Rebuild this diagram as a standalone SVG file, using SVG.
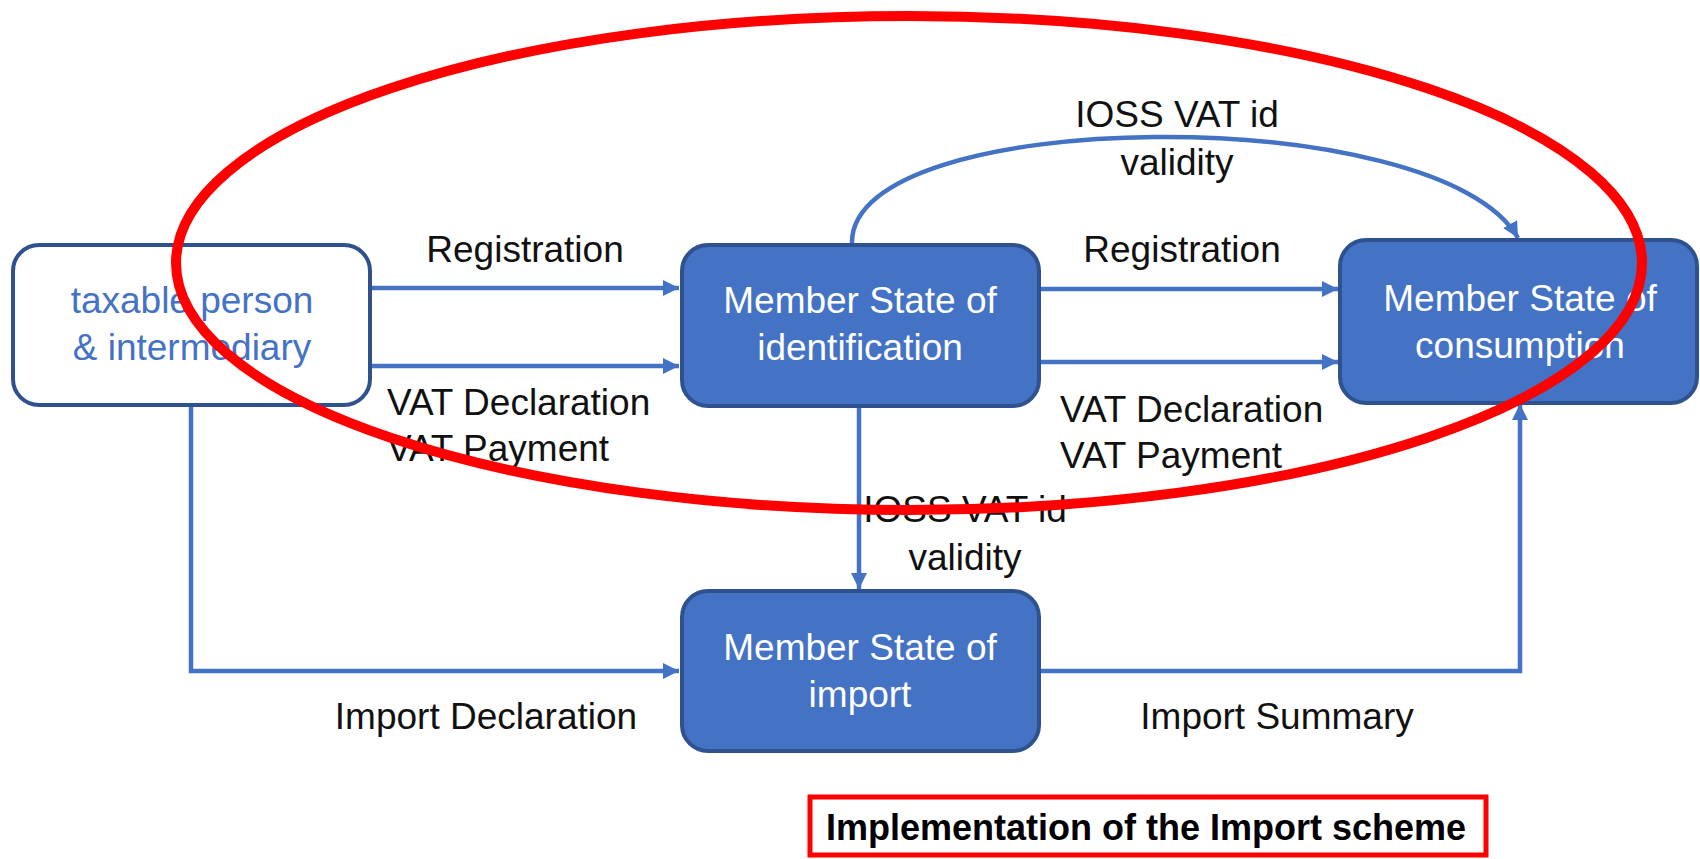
<svg xmlns="http://www.w3.org/2000/svg" width="1700" height="859" viewBox="0 0 1700 859">
<style>
.box{fill:#4472C4;stroke:#2F528F;stroke-width:4}
.wbox{fill:#FFFFFF;stroke:#2F528F;stroke-width:4}
.t{font-family:"Liberation Sans",Arial,sans-serif;font-size:37px;text-anchor:middle}
.w{fill:#FFFFFF}
.bt{fill:#4472C4}
.lbl{font-family:"Liberation Sans",Arial,sans-serif;font-size:37px;fill:#111111}
.c{text-anchor:middle}
.ln{fill:none;stroke:#4472C4;stroke-width:4.5}
</style>
<defs>
<marker id="ah" markerUnits="userSpaceOnUse" markerWidth="17" markerHeight="17" refX="16" refY="8" orient="auto">
<path d="M0,0 L16,8 L0,16 z" fill="#4472C4"/>
</marker>
</defs>
<rect width="1700" height="859" fill="#FFFFFF"/>

<g id="connectors">
<line class="ln" x1="371" y1="288" x2="679" y2="288" marker-end="url(#ah)"/>
<line class="ln" x1="371" y1="366" x2="679" y2="366" marker-end="url(#ah)"/>
<line class="ln" x1="1040" y1="289" x2="1338" y2="289" marker-end="url(#ah)"/>
<line class="ln" x1="1040" y1="362" x2="1338" y2="362" marker-end="url(#ah)"/>
<path class="ln" d="M852,243 C850,105 1440,100 1518,238" marker-end="url(#ah)"/>
<line class="ln" x1="859" y1="407" x2="859" y2="589" marker-end="url(#ah)"/>
<polyline class="ln" points="191,405 191,671 679,671" marker-end="url(#ah)"/>
<polyline class="ln" points="1040,671 1520,671 1520,404" marker-end="url(#ah)"/>
</g>

<g id="labels">
<text class="lbl c" x="525" y="262">Registration</text>
<text class="lbl" x="387" y="415">VAT Declaration</text>
<text class="lbl" x="387" y="461">VAT Payment</text>
<text class="lbl c" x="1182" y="262">Registration</text>
<text class="lbl" x="1060" y="422">VAT Declaration</text>
<text class="lbl" x="1060" y="468">VAT Payment</text>
<text class="lbl c" x="1177" y="127">IOSS VAT id</text>
<text class="lbl c" x="1177" y="175">validity</text>
<text class="lbl c" x="965" y="522">IOSS VAT id</text>
<text class="lbl c" x="965" y="570">validity</text>
<text class="lbl c" x="486" y="729">Import Declaration</text>
<text class="lbl c" x="1277" y="729">Import Summary</text>
</g>

<g id="taxable-person">
<rect class="wbox" x="13" y="245" width="357" height="160" rx="26"/>
<text class="t bt" x="192" y="313">taxable person</text>
<text class="t bt" x="192" y="360">&amp; intermediary</text>
</g>

<g id="ms-identification">
<rect class="box" x="682" y="245" width="357" height="161" rx="26"/>
<text class="t w" x="860" y="313">Member State of</text>
<text class="t w" x="860" y="360">identification</text>
</g>

<g id="ms-consumption">
<rect class="box" x="1340" y="240" width="357" height="163" rx="26"/>
<text class="t w" x="1520" y="311">Member State of</text>
<text class="t w" x="1520" y="358">consumption</text>
</g>

<g id="ms-import">
<rect class="box" x="682" y="591" width="357" height="160" rx="26"/>
<text class="t w" x="860" y="660">Member State of</text>
<text class="t w" x="860" y="707">import</text>
</g>

<g id="highlight">
<ellipse cx="909" cy="263" rx="733" ry="247" fill="none" stroke="#FF0000" stroke-width="10"/>
</g>

<g id="caption">
<rect x="810" y="797" width="676" height="58" fill="#FFFFFF" stroke="#FF0000" stroke-width="5"/>
<text x="1146" y="840" font-family="'Liberation Sans',Arial,sans-serif" font-size="36" font-weight="bold" text-anchor="middle" fill="#000000">Implementation of the Import scheme</text>
</g>
</svg>
